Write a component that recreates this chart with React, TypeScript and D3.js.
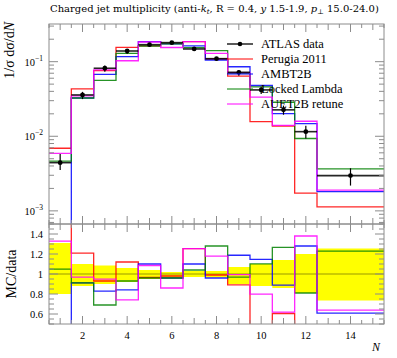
import React from "react";
import * as d3 from "d3";

// ---------- data ----------
const binEdges = [0.5, 1.5, 2.5, 3.5, 4.5, 5.5, 6.5, 7.5, 8.5, 9.5, 10.5, 11.5, 12.5, 15.5];
const dataX = [1, 2, 3, 4, 5, 6, 7, 8, 9, 10, 11, 12, 14];
const dataY = [0.00443, 0.0358, 0.0816, 0.139, 0.169, 0.18, 0.148, 0.1097, 0.072, 0.0418, 0.0226, 0.01153, 0.00297];
const dataErrHi = [0.31, 0.1, 0.085, 0.06, 0.04, 0.02, 0.03, 0.03, 0.07, 0.1, 0.14, 0.2, 0.255];
const dataErrLo = [0.2, 0.12, 0.1, 0.08, 0.05, 0.04, 0.03, 0.035, 0.1, 0.12, 0.14, 0.19, 0.265];

const perugia2011 = [0.00691, 0.0433, 0.0759, 0.1557, 0.1631, 0.1764, 0.1857, 0.1086, 0.0641, 0.01572, 0.01367, 0.00173, 0.00113];
const ambt2b = [0, 0.0326, 0.0677, 0.1168, 0.1859, 0.1728, 0.1628, 0.1053, 0.0855, 0.0479, 0.0201, 0.01476, 0.00181];
const lockedLambda = [0.00465, 0.0326, 0.0563, 0.1293, 0.1622, 0.1728, 0.1539, 0.1404, 0.0698, 0.046, 0.0286, 0.00934, 0.00365];
const auet2bRetune = [0.00589, 0.0347, 0.0775, 0.1029, 0.1834, 0.1548, 0.1857, 0.1294, 0.0715, 0.0334, 0.014, 0.01591, 0.0019];

const seriesNames = ["Perugia 2011", "AMBT2B", "Locked Lambda", "AUET2B retune"];
const seriesColors = ["#ff0000", "#0000ff", "#008000", "#ff00ff"];
const seriesValues = [perugia2011, ambt2b, lockedLambda, auet2bRetune];

const xTickLabels = [2, 4, 6, 8, 10, 12, 14];
const ratioTickLabels = [0.6, 0.8, 1, 1.2, 1.4];
const logTickExps = [-3, -2, -1];

// ---------- layout ----------
const W = 397;
const H = 358;
const L = 49, R = 384, T = 24, M = 224, B = 324;
const FONT = "'Liberation Serif', 'DejaVu Serif', serif";
const TITLE_FONT = "'DejaVu Serif', serif";
const AX = "#8c8c8c";

export default function App() {
  const x = d3.scaleLinear().domain([0.5, 15.5]).range([L, R]);
  const yTop = d3.scaleLog().domain([Math.pow(10, -3.176), Math.pow(10, -0.495)]).range([M, T]);
  const yRat = d3.scaleLinear().domain([0.5, 1.5]).range([B, M]);

  const ySafeTop = (v: number) => (v > 0 ? yTop(v) : M + 30);
  const line = d3.line<[number, number]>().x((d) => d[0]).y((d) => d[1]);

  const stepPts = (vals: number[], yf: (v: number) => number): [number, number][] => {
    const pts: [number, number][] = [];
    vals.forEach((v, i) => {
      pts.push([x(binEdges[i]), yf(v)]);
      pts.push([x(binEdges[i + 1]), yf(v)]);
    });
    return pts;
  };
  const ratioY = (vals: number[]) => vals.map((v, i) => v / dataY[i]);
  const yRatSafe = (r: number) => (r > 0 ? yRat(r) : B + 30);

  // ticks
  const xHalf = d3.range(0.5, 15.51, 0.5);
  const logMinor: { v: number; major: boolean }[] = [];
  for (let e = -4; e <= 0; e++) {
    for (let k = 1; k <= 9; k++) {
      const v = k * Math.pow(10, e);
      const lv = Math.log10(v);
      if (lv >= -3.176 && lv <= -0.495) logMinor.push({ v, major: k === 1 });
    }
  }
  const ratMinor = d3.range(0.5, 1.501, 0.05);

  const xTicks = (yEdge: number, dir: number) =>
    xHalf.map((v, i) => {
      const isInt = Math.abs(v - Math.round(v)) < 1e-6;
      const isMajor = isInt && Math.round(v) % 2 === 0;
      const len = isMajor ? 8 : isInt ? 6 : 4;
      return <line key={`xt${yEdge}${dir}${i}`} x1={x(v)} x2={x(v)} y1={yEdge} y2={yEdge + dir * len} stroke={AX} strokeWidth={1} />;
    });

  return (
    <svg width={W} height={H} style={{ display: "block", position: "absolute", left: 0, top: 0 }} fontFamily={FONT}>
      <rect x={0} y={0} width={W} height={H} fill="#fff" />
      <defs>
        <clipPath id="clipTop"><rect x={L} y={T} width={R - L} height={M - T} /></clipPath>
        <clipPath id="clipRat"><rect x={L} y={M} width={R - L} height={B - M} /></clipPath>
      </defs>

      {/* title */}
      <text x={L + 1} y={12} fontSize={10} fill="#000" fontFamily={TITLE_FONT}>
        Charged jet multiplicity (anti-<tspan fontStyle="italic">k</tspan>
        <tspan fontStyle="italic" fontSize={7} dy={2}>t</tspan>
        <tspan dy={-2}>, R = 0.4, </tspan>
        <tspan fontStyle="italic">y</tspan> 1.5-1.9, <tspan fontStyle="italic">p</tspan>
        <tspan fontSize={7} dy={2}>⊥</tspan>
        <tspan dy={-2}> 15.0-24.0)</tspan>
      </text>

      {/* ---------- top panel ---------- */}
      <g clipPath="url(#clipTop)">
        {seriesValues.map((vals, s) => (
          <path key={`h${s}`} d={line(stepPts(vals, ySafeTop)) || ""} fill="none" stroke={seriesColors[s]} strokeWidth={1.3} strokeOpacity={0.85} />
        ))}
        {dataY.map((v, i) => (
          <g key={`d${i}`}>
            <line x1={x(binEdges[i])} x2={x(binEdges[i + 1])} y1={yTop(v)} y2={yTop(v)} stroke="#000" strokeWidth={1.6} strokeOpacity={0.85} />
            <line x1={x(dataX[i])} x2={x(dataX[i])} y1={yTop(v * (1 + dataErrHi[i]))} y2={yTop(v * (1 - dataErrLo[i]))} stroke="#000" strokeWidth={1.2} />
            <circle cx={x(dataX[i])} cy={yTop(v)} r={2.4} fill="#000" />
          </g>
        ))}
      </g>

      {/* legend */}
      <g>
        {["ATLAS data", ...seriesNames].map((name, i) => {
          const ly = 44 + i * 15;
          const col = i === 0 ? "#000" : seriesColors[i - 1];
          return (
            <g key={`lg${i}`}>
              <line x1={227} x2={253} y1={ly} y2={ly} stroke={col} strokeWidth={i === 0 ? 1.3 : 1} />
              {i === 0 && <circle cx={240} cy={ly} r={2.3} fill="#000" />}
              <text x={261} y={ly + 4} fontSize={12.5} fill="#000">{name}</text>
            </g>
          );
        })}
      </g>

      {/* top frame & ticks */}
      <rect x={L} y={T} width={R - L} height={M - T} fill="none" stroke={AX} strokeWidth={1} />
      {xTicks(T, 1)}
      {xTicks(M, -1)}
      {logMinor.map((t, i) => (
        <g key={`lt${i}`}>
          <line x1={L} x2={L + (t.major ? 9 : 5)} y1={yTop(t.v)} y2={yTop(t.v)} stroke={AX} />
          <line x1={R} x2={R - (t.major ? 9 : 5)} y1={yTop(t.v)} y2={yTop(t.v)} stroke={AX} />
        </g>
      ))}
      {logTickExps.map((e) => (
        <text key={`ll${e}`} x={L - 6} y={yTop(Math.pow(10, e)) + 4} fontSize={10.5} textAnchor="end" fill="#000">
          10<tspan fontSize={7.5} dy={-5}>−{Math.abs(e)}</tspan>
        </text>
      ))}
      <text transform={`translate(14,22) rotate(-90)`} textAnchor="end" fontSize={14} fill="#000">
        1/σ dσ/d<tspan fontStyle="italic">N</tspan>
      </text>

      {/* ---------- ratio panel ---------- */}
      <g clipPath="url(#clipRat)">
        {dataY.map((v, i) => (
          <rect key={`band${i}`} x={x(binEdges[i])} width={x(binEdges[i + 1]) - x(binEdges[i])} y={yRat(1 + dataErrHi[i])} height={yRat(1 - dataErrLo[i]) - yRat(1 + dataErrHi[i])} fill="#ffff00" />
        ))}
        <line x1={L} x2={R} y1={yRat(1)} y2={yRat(1)} stroke="#000" strokeOpacity={0.4} strokeWidth={1} />
        {seriesValues.map((vals, s) => (
          <path key={`r${s}`} d={line(stepPts(ratioY(vals), yRatSafe)) || ""} fill="none" stroke={seriesColors[s]} strokeWidth={1.3} strokeOpacity={0.85} />
        ))}
      </g>
      <rect x={L} y={M} width={R - L} height={B - M} fill="none" stroke={AX} strokeWidth={1} />
      {xTicks(M, 1)}
      {xTicks(B, -1)}
      {ratMinor.map((v, i) => {
        const major = ratioTickLabels.some((t) => Math.abs(t - v) < 1e-6);
        return (
          <g key={`rt${i}`}>
            <line x1={L} x2={L + (major ? 9 : 5)} y1={yRat(v)} y2={yRat(v)} stroke={AX} />
            <line x1={R} x2={R - (major ? 9 : 5)} y1={yRat(v)} y2={yRat(v)} stroke={AX} />
          </g>
        );
      })}
      {ratioTickLabels.map((t) => (
        <text key={`rl${t}`} x={L - 6} y={yRat(t) + 3.5} fontSize={10.5} textAnchor="end" fill="#000">{t}</text>
      ))}
      <text transform={`translate(16,${yRat(1)}) rotate(-90)`} textAnchor="middle" fontSize={14} fill="#000">MC/data</text>

      {xTickLabels.map((t) => (
        <text key={`xl${t}`} x={x(t)} y={339} fontSize={10.5} textAnchor="middle" fill="#000">{t}</text>
      ))}
      <text x={R - 4} y={351} fontSize={12} fontStyle="italic" textAnchor="end" fill="#000">N</text>
    </svg>
  );
}
